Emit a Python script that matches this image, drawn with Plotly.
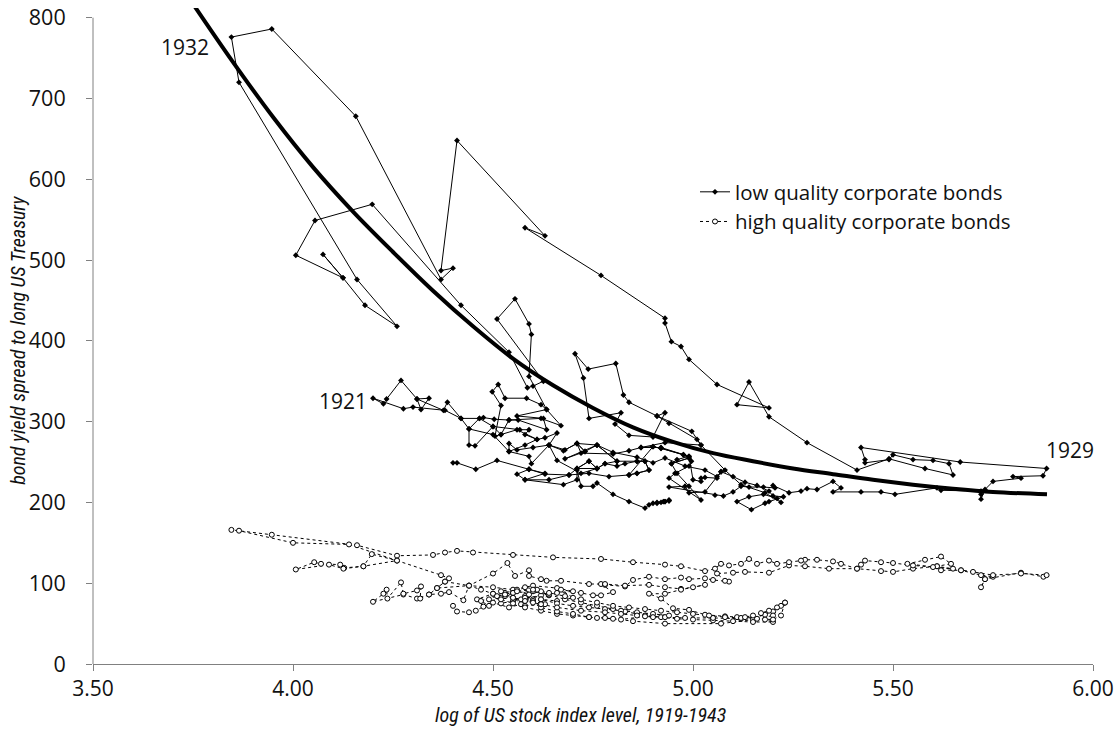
import plotly.graph_objects as go

# ---------------- data ----------------
low_x = [
4.40,4.41,4.457,4.51,4.59,4.63,4.69,4.71,4.74,4.76,4.72,4.66,
4.64,4.60,4.56,4.54,4.54,4.50,4.44,4.42,4.38,4.30,4.276,4.20,
4.226,4.234,4.27,4.31,4.34,4.32,4.31,4.376,4.386,4.42,4.466,4.44,
4.44,4.455,4.50,4.52,4.505,4.52,4.498,4.513,4.53,4.584,4.62,4.634,
4.56,4.626,4.634,4.563,4.54,4.503,4.476,4.466,4.50,4.567,4.59,4.58,
4.61,4.63,4.66,4.64,4.676,4.71,4.73,4.68,4.76,4.81,4.86,4.88,
4.89,4.86,4.84,4.90,4.92,4.976,4.99,4.946,4.96,4.99,5.02,4.94,
4.955,4.99,4.996,4.99,5.00,5.02,5.02,5.03,5.06,5.07,5.03,4.99,
4.98,4.94,5.055,5.076,5.10,5.12,5.14,5.176,5.205,5.20,5.24,5.27,
5.285,5.31,5.35,5.37,5.35,5.42,5.47,5.505,5.61,5.62,5.72,5.72,
5.72,5.73,5.75,5.82,5.80,5.875,5.884,5.668,5.42,5.43,5.43,5.49,
5.50,5.55,5.60,5.64,5.65,5.58,5.49,5.41,5.285,5.19,5.14,5.11,
5.19,5.06,4.99,4.97,4.946,4.93,4.93,4.77,4.58,4.63,4.41,4.37,
4.40,4.37,4.157,3.947,3.846,3.865,4.16,4.26,4.18,4.125,4.075,4.125,
4.007,4.055,4.198,4.42,4.54,4.586,4.60,4.626,4.51,4.555,4.59,4.596,
4.59,4.634,4.67,4.62,4.54,4.52,4.56,4.61,4.58,4.54,4.59,4.596,
4.64,4.68,4.71,4.76,4.80,4.86,4.90,4.93,4.98,5.03,5.06,5.07,
5.10,5.13,5.16,5.19,5.20,5.226,5.19,5.18,5.146,5.11,5.14,5.176,
5.21,5.22,5.18,5.12,5.08,5.02,4.997,4.91,4.84,4.826,4.807,4.738,
4.705,4.726,4.74,4.82,4.805,4.84,4.90,4.93,4.91,4.94,5.01,5.02,
4.93,4.87,4.90,4.92,4.976,4.99,4.946,4.96,4.99,4.92,4.87,4.84,
4.80,4.72,4.71,4.73,4.76,4.81,4.78,4.76,4.74,4.71,4.76,4.78,
4.81,4.83,4.86,4.88,4.89,4.86,4.84,4.79,4.74,4.69,4.64,4.58,
4.63,4.59,4.56,4.58,4.676,4.71,4.71,4.72,4.75,4.76,4.80,4.84,
4.88,4.89,4.90,4.91,4.926,4.94,4.93,4.92,4.91,4.94,4.93,4.94]

low_y = [
249,249,241,252,241,235,234,242,251,242,236,252,
271,268,265,273,263,284,291,304,314,318,316,329,
322,328,351,328,329,315,328,314,324,304,304,291,
271,270,294,284,282,320,337,346,329,329,321,315,
307,304,290,302,302,303,305,304,294,290,290,284,
278,280,286,271,264,273,263,254,271,251,251,251,
240,236,234,269,267,259,255,248,236,220,203,230,
236,245,251,257,228,226,230,231,230,238,213,212,
220,219,209,208,213,220,219,219,218,221,212,214,
217,216,226,218,213,213,213,210,218,215,214,210,
204,216,226,230,232,233,242,250,268,253,249,253,
259,253,252,248,234,242,254,240,274,306,349,321,
317,346,377,393,399,422,428,481,540,530,648,487,
490,476,678,786,776,720,476,418,444,478,507,478,
506,549,569,444,386,342,344,350,427,452,421,408,
356,315,295,304,302,284,290,278,271,263,257,248,
271,265,273,271,262,256,249,255,245,240,232,238,
232,225,221,214,208,207,201,199,191,201,207,210,
205,200,212,222,240,271,288,307,324,333,372,365,
384,354,304,311,297,283,281,311,307,298,278,271,
274,268,269,267,259,255,248,253,257,268,268,264,
260,261,273,263,271,251,248,242,251,242,242,248,
245,248,251,251,240,236,234,232,236,234,228,228,
236,241,235,228,222,228,240,220,220,224,210,201,
193,197,199,200,201,202,201,200,199,202,201,203]

high_x = [
4.40,4.41,4.44,4.457,4.476,4.46,4.50,4.53,4.57,4.62,4.66,4.70,
4.66,4.60,4.55,4.50,4.44,4.426,4.39,4.37,4.34,4.31,4.276,4.20,
4.226,4.234,4.236,4.27,4.276,4.31,4.32,4.318,4.34,4.36,4.38,4.44,
4.47,4.50,4.49,4.52,4.55,4.58,4.60,4.57,4.54,4.50,4.53,4.56,
4.59,4.62,4.60,4.63,4.58,4.55,4.52,4.49,4.47,4.51,4.55,4.58,
4.61,4.64,4.62,4.66,4.70,4.67,4.72,4.75,4.77,4.80,4.77,4.78,
4.83,4.85,4.89,4.93,4.97,4.99,5.03,5.05,5.09,5.08,5.06,5.10,
5.13,5.19,5.24,5.28,5.34,5.41,5.47,5.50,5.55,5.61,5.62,5.67,
5.536,5.58,5.62,5.645,5.61,5.67,5.72,5.75,5.73,5.72,5.73,5.82,
5.876,5.884,5.82,5.75,5.70,5.65,5.60,5.55,5.50,5.47,5.43,5.42,
5.41,5.37,5.35,5.31,5.28,5.27,5.24,5.21,5.19,5.16,5.14,5.12,
5.09,5.07,5.055,5.03,4.97,4.93,4.85,4.77,4.65,4.55,4.45,4.41,
4.38,4.35,4.26,4.16,3.947,3.846,3.865,4.00,4.14,4.26,4.197,4.176,
4.128,4.118,4.07,4.053,4.007,4.09,4.126,4.176,4.26,4.37,4.39,4.38,
4.36,4.44,4.50,4.536,4.555,4.59,4.59,4.62,4.634,4.67,4.74,4.78,
4.83,4.89,4.93,4.97,5.00,5.03,4.97,4.93,4.89,4.92,4.95,4.99,
5.03,5.08,5.11,5.15,5.18,5.20,5.23,5.22,5.20,5.15,5.07,4.93,
4.85,4.80,4.76,4.74,4.70,4.66,4.62,4.58,4.55,4.52,4.55,4.60,
4.64,4.68,4.72,4.76,4.80,4.83,4.86,4.88,4.92,4.96,5.00,5.05,
5.10,5.15,5.20,5.18,5.12,5.05,4.98,4.93,4.88,4.82,4.78,4.74,
4.70,4.66,4.62,4.60,4.58,4.62,4.66,4.70,4.74,4.78,4.82,4.86,
4.90,4.94,4.90,4.86,4.82,4.78,4.72,4.66,4.62,4.58,4.55,4.53,
4.56,4.60,4.64,4.68,4.72,4.76,4.80,4.84,4.88,4.92,4.96,5.00,
5.04,5.08,5.12,5.16,5.20,5.22,5.23,5.21,5.19,5.17,5.15,5.13]

high_y = [
72,65,64,66,71,80,87,84,80,85,88,90,
94,97,92,95,97,79,89,87,86,81,86,77,
87,92,81,101,87,91,96,81,86,94,102,97,
92,87,80,75,78,84,80,74,70,76,88,92,
86,90,78,74,72,82,90,72,78,84,88,95,
92,85,80,78,82,92,88,85,85,89,99,98,
96,104,108,105,107,105,106,104,102,103,112,113,
114,113,122,121,118,118,115,114,118,121,116,116,
124,129,133,124,121,116,110,108,105,95,105,113,
108,110,112,110,114,118,120,122,125,126,128,123,
118,124,127,129,129,128,126,124,128,124,130,124,
122,124,118,115,121,123,126,130,132,135,138,140,
138,135,134,147,160,166,165,150,148,128,136,121,
119,123,124,126,117,123,118,121,128,110,106,102,
94,97,112,125,109,116,109,105,103,103,99,99,
97,98,95,93,95,98,92,87,87,81,69,67,
61,59,58,57,61,65,76,72,60,55,50,50,
53,56,57,58,60,62,66,70,75,80,88,90,
86,80,76,72,68,65,62,60,58,56,55,54,
53,52,52,55,56,57,57,58,59,55,57,58,
62,65,70,76,82,80,75,72,70,68,66,64,
62,60,58,60,62,64,66,70,74,78,82,86,
90,92,88,84,80,76,72,70,68,66,64,62,
60,58,57,56,55,60,76,70,66,63,60,58]

fit_x = [3.75, 3.85, 3.95, 4.05, 4.15, 4.25, 4.35, 4.45, 4.55, 4.65, 4.75,
         4.85, 4.95, 5.05, 5.15, 5.25, 5.35, 5.45, 5.55, 5.65, 5.75, 5.885]
fit_y = [817, 745, 677, 615, 560, 510, 462, 418, 378, 345, 317,
         293, 275, 261, 251, 242, 235, 228, 222, 217, 213, 210]

year_text = ["1932", "1921", "1929"]
year_x = [3.73, 4.125, 5.9425]
year_y = [764, 326, 265]

series_names = ["low quality corporate bonds", "high quality corporate bonds"]
x_title = "log of US stock index level, 1919-1943"
y_title = "bond yield spread to long US Treasury"
x_ticks = [3.5, 4.0, 4.5, 5.0, 5.5, 6.0]
y_ticks = [0, 100, 200, 300, 400, 500, 600, 700, 800]

FONT = "Open Sans, Liberation Sans, Arial, sans-serif"
TITLE_FONT = "Liberation Sans Narrow, Roboto Condensed, Liberation Sans, sans-serif"

fig = go.Figure()
fig.add_trace(go.Scatter(
    x=low_x, y=low_y, mode="lines+markers", name=series_names[0],
    line=dict(color="black", width=1),
    marker=dict(symbol="diamond", size=4.5, color="black"),
))
fig.add_trace(go.Scatter(
    x=high_x, y=high_y, mode="lines+markers", name=series_names[1],
    line=dict(color="black", width=1, dash="dot"),
    marker=dict(symbol="circle", size=5, color="white",
                line=dict(color="black", width=1)),
))
fig.add_trace(go.Scatter(
    x=fit_x, y=fit_y, mode="lines", showlegend=False, hoverinfo="skip",
    line=dict(color="black", width=4, shape="spline", smoothing=1.0),
))

for t, xx, yy in zip(year_text, year_x, year_y):
    fig.add_annotation(x=xx, y=yy, text=t, showarrow=False,
                       font=dict(family=FONT, size=21, color="#111"))

# axis titles
fig.add_annotation(x=4.7175, xref="x", y=-0.078, yref="paper",
                   text=x_title, showarrow=False, xanchor="center", yanchor="middle",
                   font=dict(family=TITLE_FONT, size=20, style="italic", color="#111"))
fig.add_annotation(x=-0.075, xref="paper", y=400, yref="y",
                   text=y_title, showarrow=False, textangle=-90,
                   xanchor="center", yanchor="middle",
                   font=dict(family=TITLE_FONT, size=20, style="italic", color="#111"))

# y axis line only up to the top tick (the fitted curve pokes above it)
fig.add_shape(type="line", xref="paper", yref="y", x0=0, x1=0, y0=0, y1=y_ticks[-1],
              line=dict(color="#808080", width=1))

fig.update_layout(
    width=1120, height=747,
    paper_bgcolor="white", plot_bgcolor="white",
    margin=dict(l=93, r=27, t=8, b=83, autoexpand=False),
    font=dict(family=FONT, size=21, color="#111"),
    legend=dict(x=0.602, y=0.75, xanchor="left", yanchor="top",
                bgcolor="rgba(0,0,0,0)", font=dict(family=FONT, size=20.5),
                tracegroupgap=0, itemwidth=30),
    showlegend=True,
)
fig.update_xaxes(
    range=[3.5, 6.0], tickvals=x_ticks, tickformat=".2f",
    showline=True, linecolor="#808080", linewidth=1,
    ticks="outside", ticklen=6, tickcolor="#808080",
    tickfont=dict(size=21), automargin=False,
    showgrid=False, zeroline=False,
)
fig.update_yaxes(
    range=[0, 812], tickvals=y_ticks,
    showline=False,
    ticks="outside", ticklen=6, tickcolor="#808080",
    tickfont=dict(size=21.5), automargin=False, ticklabelstandoff=16,
    ticklabeloverflow="allow",
    showgrid=False, zeroline=False,
)

fig.write_html("out.html",
               config={"displayModeBar": False},
               post_script="document.body.style.margin='0';document.body.style.overflow='hidden';")
